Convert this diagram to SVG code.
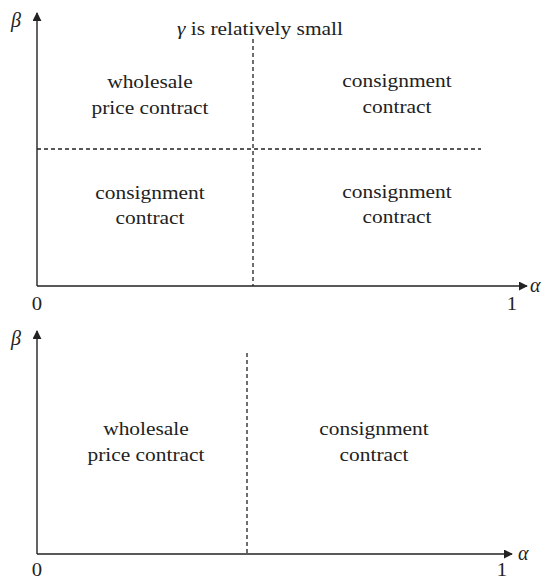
<svg xmlns="http://www.w3.org/2000/svg" width="548" height="580" viewBox="0 0 548 580">
<style>
text{font-family:'Liberation Serif','Times New Roman',Times,serif}
.t{font-size:18px;fill:#222;text-anchor:middle}
.g{font-size:20px;font-style:italic;fill:#222}
.ax{stroke:#222;stroke-width:1.4;fill:none}
.d{stroke:#222;stroke-width:1.3;stroke-dasharray:4,3;fill:none}
</style>
<defs>
<marker id="ah" viewBox="0 0 10 10" refX="9" refY="5" markerWidth="9" markerHeight="9" markerUnits="userSpaceOnUse" orient="auto">
<path d="M0,0 L10,5 L0,10 Z" fill="#222"/>
</marker>
</defs>
<rect width="548" height="580" fill="#fff"/>
<g id="connectors">
<line class="ax" x1="37" y1="286" x2="37" y2="13" marker-end="url(#ah)"/>
<line class="ax" x1="37" y1="286" x2="527" y2="286" marker-end="url(#ah)"/>
<line class="d" x1="253" y1="39" x2="253" y2="286"/>
<line class="d" x1="37" y1="149" x2="481" y2="149"/>
<line class="ax" x1="37" y1="554" x2="37" y2="331" marker-end="url(#ah)"/>
<line class="ax" x1="37" y1="554" x2="512" y2="554" marker-end="url(#ah)"/>
<line class="d" x1="247" y1="353" x2="247" y2="554"/>
</g>
<g id="top-labels">
<text class="g" x="11" y="27" font-family="Liberation Serif, serif">β</text>
<text class="g" x="530" y="292" font-family="Liberation Serif, serif">α</text>
<text class="t" font-family="Liberation Serif, serif" transform="translate(37,310) scale(1.15,1)">0</text>
<text class="t" font-family="Liberation Serif, serif" transform="translate(512,310) scale(1.15,1)">1</text>
<text class="t" font-family="Liberation Serif, serif" transform="translate(260,35) scale(1.19,1)"><tspan font-style="italic">γ</tspan> is relatively small</text>
</g>
<g id="top-wholesale" font-family="Liberation Serif, serif"><text class="t" transform="translate(150,88) scale(1.19,1)">wholesale</text><text class="t" transform="translate(150,114) scale(1.19,1)">price contract</text></g>
<g id="top-right" font-family="Liberation Serif, serif"><text class="t" transform="translate(397,87) scale(1.19,1)">consignment</text><text class="t" transform="translate(397,113) scale(1.19,1)">contract</text></g>
<g id="bottom-left" font-family="Liberation Serif, serif"><text class="t" transform="translate(150,199) scale(1.19,1)">consignment</text><text class="t" transform="translate(150,224) scale(1.19,1)">contract</text></g>
<g id="bottom-right" font-family="Liberation Serif, serif"><text class="t" transform="translate(397,198) scale(1.19,1)">consignment</text><text class="t" transform="translate(397,223) scale(1.19,1)">contract</text></g>
<g id="bottom-labels" font-family="Liberation Serif, serif">
<text class="g" x="11" y="345">β</text>
<text class="g" x="518" y="560">α</text>
<text class="t" transform="translate(37,576) scale(1.15,1)">0</text>
<text class="t" transform="translate(502,576) scale(1.15,1)">1</text>
</g>
<g id="b-wholesale" font-family="Liberation Serif, serif"><text class="t" transform="translate(146,435) scale(1.19,1)">wholesale</text><text class="t" transform="translate(146,461) scale(1.19,1)">price contract</text></g>
<g id="b-consignment" font-family="Liberation Serif, serif"><text class="t" transform="translate(374,435) scale(1.19,1)">consignment</text><text class="t" transform="translate(374,461) scale(1.19,1)">contract</text></g>
</svg>
